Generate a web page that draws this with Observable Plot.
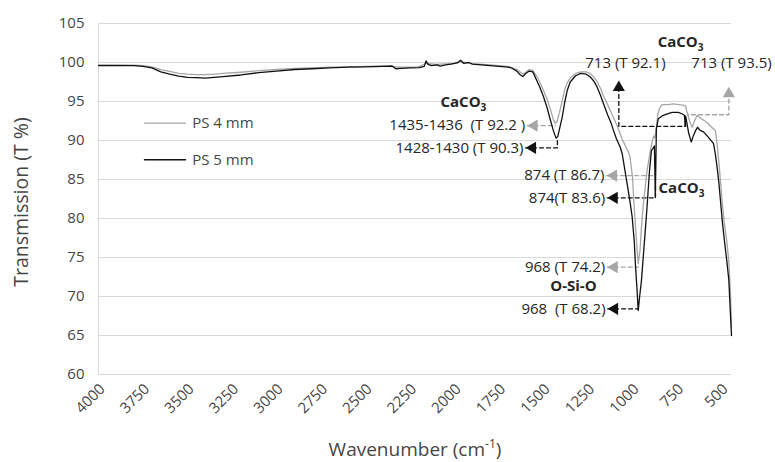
<!DOCTYPE html>
<html><head><meta charset="utf-8">
<script src="https://cdn.jsdelivr.net/npm/d3@7"></script>
<script src="https://cdn.jsdelivr.net/npm/@observablehq/plot@0.6"></script>
<style>
body{margin:0;background:#fff;}
</style></head><body><div id="chart"></div>
<script>
// ---- Data ----
const seriesNames = ["PS 4 mm", "PS 5 mm"];

const wavenumber5 = [4000,3900,3800,3750,3700,3650,3600,3550,3500,3450,3400,3350,3300,3200,3100,3000,2900,2800,2700,2600,2500,2400,2350,2330,2300,2250,2200,2170,2160,2150,2130,2100,2080,2050,2020,2000,1980,1966,1950,1920,1900,1850,1800,1750,1700,1680,1650,1630,1615,1600,1580,1560,1540,1520,1500,1480,1460,1445,1430,1420,1410,1395,1380,1367,1350,1320,1290,1260,1240,1220,1200,1180,1163,1140,1120,1107,1090,1070,1058,1045,1030,1015,1002,990,983,975,968,960,950,940,930,920,905,894,885,877,872,866,855,830,805,777,742,720,708,705,701,695,685,670,660,645,635,620,601,573,545,535,525,515,506,495,483,470,459,450,444];
const transmission5 = [99.6,99.6,99.6,99.5,99.3,98.8,98.5,98.25,98.1,98.05,98.0,98.1,98.2,98.4,98.7,98.9,99.1,99.2,99.3,99.4,99.45,99.5,99.55,99.2,99.25,99.3,99.35,99.5,100.2,99.8,99.6,99.7,99.55,99.7,99.8,99.9,100.0,100.3,99.9,100.0,99.8,99.7,99.6,99.5,99.4,99.3,98.9,98.4,98.2,98.6,98.9,98.8,97.8,96.8,95.6,94.2,92.5,91.3,90.3,90.5,91.5,93.0,95.0,96.4,97.5,98.3,98.6,98.5,98.2,97.7,96.9,95.8,94.7,93.3,92.2,91.3,90.2,89.2,88.3,86.5,84.4,82.3,80.2,77.0,73.8,71.0,68.2,70.0,72.0,75.0,78.0,81.0,86.0,88.7,89.0,89.3,82.7,91.5,92.8,93.2,93.4,93.6,93.6,93.4,93.2,91.9,93.0,92.3,91.0,89.8,90.5,91.3,91.7,91.3,91.1,90.4,89.6,88.3,86.6,84.6,82.3,79.5,77.0,74.5,72.1,67.8,65.0];

const wavenumber4 = [4000,3900,3800,3750,3700,3650,3600,3550,3500,3450,3400,3350,3300,3200,3100,3000,2900,2800,2700,2600,2500,2400,2300,2200,2160,2100,2000,1966,1900,1800,1700,1650,1615,1580,1560,1540,1520,1500,1480,1460,1445,1435,1425,1410,1395,1380,1367,1350,1320,1290,1260,1240,1220,1200,1180,1163,1140,1120,1100,1080,1060,1040,1025,1015,1000,993,985,974,968,958,948,937,918,900,888,880,874,866,858,850,843,833,800,770,740,710,702,696,691,680,665,650,637,620,600,581,560,545,534,525,515,505,497,485,470,459,450,444];
const transmission4 = [99.7,99.7,99.65,99.6,99.45,99.1,98.85,98.6,98.5,98.45,98.45,98.5,98.6,98.75,98.95,99.1,99.25,99.3,99.4,99.45,99.5,99.55,99.4,99.45,99.9,99.75,99.9,100.1,99.85,99.7,99.5,99.1,98.5,99.1,99.0,98.3,97.4,96.4,95.3,93.9,92.7,92.2,92.4,93.6,95.1,96.6,97.4,98.0,98.6,98.8,98.8,98.6,98.2,97.6,96.7,95.7,94.6,93.6,92.6,91.5,90.3,89.3,88.6,88.0,85.3,82.3,79.5,75.9,74.2,75.9,79.5,82.3,86.2,88.7,90.0,90.6,90.3,91.8,93.3,94.0,94.3,94.6,94.6,94.7,94.6,94.5,94.4,93.8,93.5,92.5,91.7,92.6,93.2,92.9,92.6,92.3,91.8,91.5,91.2,89.6,87.2,84.6,82.3,79.5,77.0,74.5,70.5,66.0];

const xTicks = [4000,3750,3500,3250,3000,2750,2500,2250,2000,1750,1500,1250,1000,750,500];
const yTicks = [60,65,70,75,80,85,90,95,100,105];

// annotation labels (peak assignments)
const peakLabels = ["1435-1436\u00a0 (T 92.2 )","1428-1430 (T 90.3)","874 (T 86.7)","874(T 83.6)","968 (T 74.2)","968\u00a0 (T 68.2)"];
const peakLabelW = [1592,1601,1146,1142,1142,1140];
const peakLabelT = [91.9,89.06,85.5,82.65,73.76,68.42];
const peakSeries = [0,1,0,1,0,1];

const topLabels = ["713 (T 92.1)","713 (T 93.5)"];
const topLabelW = [1040,444];
const topLabelT = [99.85,99.85];
const upArrowW = [1077,459];
const upArrowT = [97.7,96.9];
const upSeries = [1,0];

const groupLabels = ["CaCO3","CaCO3","CaCO3","O-Si-O"];
const groupLabelW = [1950,730,854,1332];
const groupLabelT = [94.9,102.6,83.85,71.3];
const groupAnchor = ["middle","middle","start","middle"];

// dashed leader lines: id, series, wavenumber, T
const leaderId  = ["a","a","b","b","b","c","c","c","c","d","d","d","e","e","e","f","f","f","g","g","h","h"];
const leaderSer = [0,0,1,1,1,1,1,1,1,0,0,0,0,0,0,1,1,1,0,0,1,1];
const leaderW   = [1592,1433,1601,1422,1422,1077,1077,702,702,459,459,693,1146,871,871,1142,871,871,1142,966,1140,966];
const leaderT   = [91.9,91.9,89.06,89.06,90.0,96.8,91.8,91.8,93.4,96.2,93.3,93.3,85.5,85.5,88.0,82.65,82.65,84.2,73.76,73.76,68.42,68.42];

// legend
const legendT = [92.22, 87.53];
const legendW = [3742, 3511, 3474];

const seriesColors = ["#a6a6a6", "#111111"];

// ---- Build tables ----
const s5 = wavenumber5.map((w,i)=>({w, t: transmission5[i]}));
const s4 = wavenumber4.map((w,i)=>({w, t: transmission4[i]}));
const peaks = peakLabels.map((label,i)=>({label, w: peakLabelW[i], t: peakLabelT[i], c: seriesColors[peakSeries[i]]}));
const tops = topLabels.map((label,i)=>({label, w: topLabelW[i], t: topLabelT[i]}));
const ups = upArrowW.map((w,i)=>({w, t: upArrowT[i], c: seriesColors[upSeries[i]]}));
const groups = groupLabels.map((label,i)=>({label, w: groupLabelW[i], t: groupLabelT[i], a: groupAnchor[i]}));
const leaders = leaderId.map((id,i)=>({id, c: seriesColors[leaderSer[i]], w: leaderW[i], t: leaderT[i]}));
const legendLines = seriesNames.flatMap((name,i)=>[{name, w: legendW[0], t: legendT[i], c: seriesColors[i]},{name, w: legendW[1], t: legendT[i], c: seriesColors[i]}]);
const legendTexts = seriesNames.map((name,i)=>({name, w: legendW[2], t: legendT[i]}));

const textColor = "#464646";
const annColor = "#262626";

const plot = Plot.plot({
  width: 775, height: 462,
  marginLeft: 98, marginRight: 44, marginTop: 23, marginBottom: 88,
  style: {fontFamily: "'Open Sans', sans-serif", fontSize: "15px", color: textColor, background: "#fff", overflow: "visible"},
  x: {domain: [4000, 444]},
  y: {domain: [60, 105]},
  marks: [
    Plot.gridY(yTicks, {stroke: "#d9d9d9", strokeOpacity: 1}),
    Plot.ruleX([4000], {stroke: "#d9d9d9"}),
    Plot.axisY(yTicks, {tickSize: 0, tickPadding: 14, label: null, fontSize: 15}),
    Plot.axisX(xTicks, {tickSize: 0, tickRotate: -45, tickPadding: 12, dx: 4, label: null, fontSize: 15, tickFormat: d => String(d)}),
    Plot.text(["Transmission (T %)"], {frameAnchor: "left", textAnchor: "middle", lineAnchor: "middle", rotate: -90, dx: -77, dy: 3, fontSize: 19.5, fill: textColor}),
    Plot.text(["Wavenumber (cm-1)"], {frameAnchor: "bottom", textAnchor: "middle", lineAnchor: "middle", dy: 75, fontSize: 19, fill: textColor}),
    // leaders
    Plot.line(leaders, {x: "w", y: "t", z: "id", stroke: "c", strokeWidth: 1.3, strokeDasharray: "4,3"}),
    // series
    Plot.line(s4, {x: "w", y: "t", stroke: seriesColors[0], strokeWidth: 1.3}),
    Plot.line(s5, {x: "w", y: "t", stroke: seriesColors[1], strokeWidth: 1.3}),
    // arrows
    Plot.dot(peaks, {x: "w", y: "t", fill: "c", symbol: "triangle", r: 4.5, rotate: -90, dx: 7}),
    Plot.dot(ups, {x: "w", y: "t", fill: "c", symbol: "triangle", r: 4.5, dy: 7}),
    // labels
    Plot.text(peaks, {x: "w", y: "t", text: "label", textAnchor: "end", dx: -2, fill: annColor, fontSize: 15}),
    Plot.text(tops, {x: "w", y: "t", text: "label", textAnchor: "middle", fill: annColor, fontSize: 15}),
    Plot.text(groups, {x: "w", y: "t", text: "label", textAnchor: "middle", fill: annColor, fontSize: 15, fontWeight: "bold", filter: d => d.a === "middle"}),
    Plot.text(groups, {x: "w", y: "t", text: "label", textAnchor: "start", fill: annColor, fontSize: 15, fontWeight: "bold", filter: d => d.a === "start"}),
    // legend
    Plot.line(legendLines, {x: "w", y: "t", z: "name", stroke: "c", strokeWidth: 1.3}),
    Plot.text(legendTexts, {x: "w", y: "t", text: "name", textAnchor: "start", fill: textColor, fontSize: 15})
  ]
});

// subscripts / superscripts
d3.select(plot).selectAll("text").each(function() {
  const t = d3.select(this);
  const s = this.textContent;
  if (s === "CaCO3") {
    t.text("CaCO");
    t.append("tspan").attr("font-size", "10px").attr("dy", "4px").text("3");
  } else if (s === "Wavenumber (cm-1)") {
    t.text("Wavenumber (cm");
    t.append("tspan").attr("font-size", "12px").attr("dy", "-8px").text("-1");
    t.append("tspan").attr("dy", "8px").text(")");
  }
});

document.getElementById("chart").appendChild(plot);
</script>
</body></html>
